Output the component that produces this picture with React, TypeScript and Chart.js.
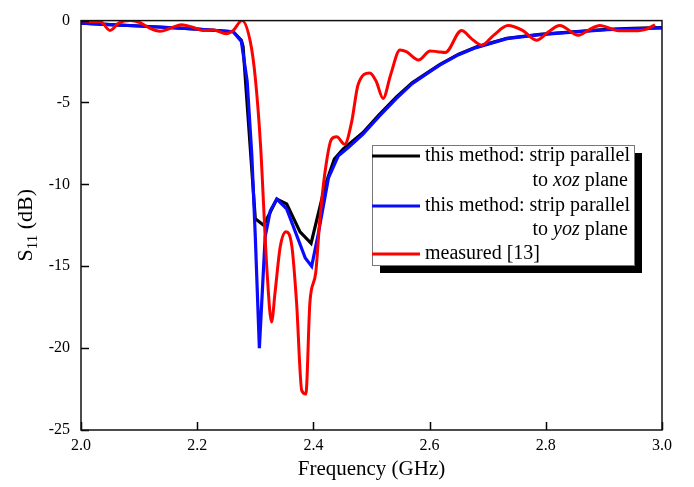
import React, { useEffect, useRef } from "react";
import { Chart, registerables } from "chart.js";

Chart.register(...registerables);

// ---- data ----
const freqXoz = [2.0, 2.05, 2.1, 2.15, 2.2, 2.24, 2.262, 2.276, 2.279, 2.3, 2.3145, 2.337, 2.354, 2.377, 2.396, 2.42, 2.436, 2.451, 2.485, 2.513, 2.543, 2.57, 2.601, 2.618, 2.65, 2.68, 2.733, 2.79, 2.847, 2.905, 2.95, 3.0];
const s11Xoz = [-0.15, -0.25, -0.33, -0.42, -0.52, -0.62, -0.68, -1.2, -1.6, -12.1, -12.5, -10.9, -11.2, -12.9, -13.6, -10.1, -8.45, -7.85, -6.85, -5.75, -4.66, -3.8, -3.07, -2.67, -2.05, -1.62, -1.08, -0.84, -0.68, -0.54, -0.48, -0.43];

const freqYoz = [2.0, 2.05, 2.1, 2.15, 2.2, 2.24, 2.262, 2.276, 2.286, 2.294, 2.3, 2.307, 2.317, 2.326, 2.337, 2.354, 2.37, 2.386, 2.397, 2.4085, 2.426, 2.443, 2.46, 2.485, 2.513, 2.543, 2.57, 2.601, 2.618, 2.65, 2.68, 2.733, 2.79, 2.847, 2.905, 2.95, 3.0];
const s11Yoz = [-0.15, -0.25, -0.33, -0.42, -0.52, -0.62, -0.68, -1.27, -3.7, -8.2, -13.2, -20.0, -13.2, -11.6, -10.9, -11.5, -13.0, -14.5, -15.0, -13.0, -9.6, -8.25, -7.75, -6.95, -5.85, -4.75, -3.85, -3.1, -2.7, -2.08, -1.65, -1.1, -0.86, -0.7, -0.56, -0.5, -0.45];

const freqMeas = [2.0, 2.015, 2.033, 2.05, 2.065, 2.085, 2.1, 2.115, 2.136, 2.155, 2.173, 2.192, 2.21, 2.228, 2.25, 2.262, 2.277, 2.2915, 2.3, 2.309, 2.32, 2.328, 2.334, 2.343, 2.353, 2.363, 2.371, 2.38, 2.387, 2.394, 2.404, 2.411, 2.42, 2.431, 2.44, 2.454, 2.4655, 2.477, 2.497, 2.508, 2.52, 2.533, 2.549, 2.56, 2.581, 2.601, 2.614, 2.627, 2.655, 2.672, 2.69, 2.71, 2.735, 2.76, 2.784, 2.804, 2.824, 2.856, 2.875, 2.893, 2.922, 2.942, 2.962, 2.975, 2.988];
const s11Meas = [0.0, -0.05, -0.05, -0.6, -0.15, 0.0, -0.1, -0.4, -0.65, -0.45, -0.25, -0.4, -0.6, -0.58, -0.8, -0.6, 0.0, -1.3, -3.5, -7.6, -15.2, -18.4, -16.6, -13.8, -12.9, -13.8, -17.2, -22.6, -22.8, -17.2, -15.4, -12.2, -9.25, -7.25, -7.1, -7.55, -6.25, -3.9, -3.2, -3.7, -4.75, -3.3, -1.8, -1.9, -2.4, -1.85, -1.9, -1.95, -0.6, -1.1, -1.5, -0.9, -0.3, -0.6, -1.2, -0.7, -0.3, -0.9, -0.55, -0.3, -0.6, -0.62, -0.6, -0.5, -0.25];

const xTickValues = [2.0, 2.2, 2.4, 2.6, 2.8, 3.0];
const yTickValues = [0, -5, -10, -15, -20, -25];

const legendEntries = ["this method: strip parallel|to |xoz| plane", "this method: strip parallel|to |yoz| plane", "measured [13]"];

const SERIF = '"Liberation Serif", "Times New Roman", serif';

const toPts = (xs: number[], ys: number[]) => xs.map((x, i) => ({ x, y: ys[i] }));

const decorPlugin = {
  id: "decor",
  afterDatasetsDraw(chart: any) {
    const { ctx, chartArea: a, scales } = chart;
    const xs = scales.x;
    const ys = scales.y;
    ctx.save();
    // inward ticks
    ctx.strokeStyle = "#000";
    ctx.lineWidth = 1.5;
    ctx.beginPath();
    xTickValues.forEach((v) => {
      const px = Math.round(xs.getPixelForValue(v)) + 0.5;
      ctx.moveTo(px, a.bottom);
      ctx.lineTo(px, a.bottom - 8);
    });
    yTickValues.forEach((v) => {
      const py = Math.round(ys.getPixelForValue(v)) + 0.5;
      ctx.moveTo(a.left, py);
      ctx.lineTo(a.left + 8, py);
    });
    ctx.stroke();
    // frame
    ctx.lineWidth = 1.5;
    ctx.strokeStyle = "#111";
    ctx.strokeRect(a.left, a.top, a.right - a.left, a.bottom - a.top);

    // legend
    const lx = 372, ly = 145, lw = 262, lh = 120;
    ctx.fillStyle = "#000";
    ctx.fillRect(lx + 8, ly + 8, lw, lh);
    ctx.fillStyle = "#fff";
    ctx.fillRect(lx, ly, lw, lh);
    ctx.strokeStyle = "#777";
    ctx.lineWidth = 1;
    ctx.strokeRect(lx + 0.5, ly + 0.5, lw, lh);
    const colors = ["#000000", "#0a0aff", "#ff0000"];
    const rowY = [156, 181, 206, 230, 254];
    const fs = 20;
    ctx.textBaseline = "middle";
    let row = 0;
    legendEntries.forEach((entry, i) => {
      const parts = entry.split("|");
      const y = rowY[row];
      ctx.strokeStyle = colors[i];
      ctx.lineWidth = 3;
      ctx.beginPath();
      ctx.moveTo(lx, y);
      ctx.lineTo(420, y);
      ctx.stroke();
      ctx.fillStyle = "#000";
      ctx.font = `${fs}px ${SERIF}`;
      ctx.textAlign = "left";
      ctx.fillText(parts[0], 425, y);
      row++;
      if (parts.length > 1) {
        const y2 = rowY[row];
        const right = 628;
        const segs = [
          { t: parts[1], f: `${fs}px ${SERIF}` },
          { t: parts[2], f: `italic ${fs}px ${SERIF}` },
          { t: parts[3], f: `${fs}px ${SERIF}` },
        ];
        let total = 0;
        segs.forEach((s) => {
          ctx.font = s.f;
          total += ctx.measureText(s.t).width;
        });
        let cx = right - total;
        segs.forEach((s) => {
          ctx.font = s.f;
          ctx.fillText(s.t, cx, y2);
          cx += ctx.measureText(s.t).width;
        });
        row++;
      }
    });

    // axis titles
    ctx.fillStyle = "#000";
    ctx.font = `21px ${SERIF}`;
    ctx.textAlign = "center";
    ctx.textBaseline = "alphabetic";
    ctx.fillText("Frequency (GHz)", (a.left + a.right) / 2, 475);

    ctx.translate(32, (a.top + a.bottom) / 2);
    ctx.rotate(-Math.PI / 2);
    const mainF = `22px ${SERIF}`;
    const subF = `15px ${SERIF}`;
    ctx.font = mainF;
    const wS = ctx.measureText("S").width;
    const wRest = ctx.measureText(" (dB)").width;
    ctx.font = subF;
    const wSub = ctx.measureText("11").width;
    const tot = wS + wSub + wRest;
    let cx = -tot / 2;
    ctx.textAlign = "left";
    ctx.font = mainF;
    ctx.fillText("S", cx, 0);
    cx += wS;
    ctx.font = subF;
    ctx.fillText("11", cx, 5);
    cx += wSub;
    ctx.font = mainF;
    ctx.fillText(" (dB)", cx, 0);
    ctx.restore();
  },
};

export default function App() {
  const ref = useRef<HTMLCanvasElement>(null);
  useEffect(() => {
    if (!ref.current) return;
    const chart = new Chart(ref.current, {
      type: "line",
      data: {
        datasets: [
          {
            label: "measured [13]",
            data: toPts(freqMeas, s11Meas),
            borderColor: "#ff0000",
            borderWidth: 3,
            pointRadius: 0,
            cubicInterpolationMode: "monotone",
            order: 1,
          },
          {
            label: "yoz",
            data: toPts(freqYoz, s11Yoz),
            borderColor: "#0a0aff",
            borderWidth: 3.2,
            pointRadius: 0,
            tension: 0,
            order: 2,
          },
          {
            label: "xoz",
            data: toPts(freqXoz, s11Xoz),
            borderColor: "#000000",
            borderWidth: 3.2,
            pointRadius: 0,
            tension: 0,
            order: 3,
          },
        ],
      },
      options: {
        responsive: false,
        animation: false,
        layout: { padding: { left: 0, top: 12, right: 32, bottom: 0 } },
        plugins: { legend: { display: false }, tooltip: { enabled: false } },
        scales: {
          x: {
            type: "linear",
            min: 2,
            max: 3,
            afterBuildTicks: (s: any) => {
              s.ticks = xTickValues.map((v) => ({ value: v }));
            },
            afterFit: (s: any) => {
              s.height = 57;
            },
            grid: { display: false, drawTicks: false },
            border: { display: false },
            ticks: {
              padding: 6,
              color: "#000",
              font: { family: SERIF, size: 16 },
              callback: (v: any) => Number(v).toFixed(1),
            },
          },
          y: {
            type: "linear",
            min: -25,
            max: 0,
            afterBuildTicks: (s: any) => {
              s.ticks = yTickValues.map((v) => ({ value: v }));
            },
            afterFit: (s: any) => {
              s.width = 81;
            },
            grid: { display: false, drawTicks: false },
            border: { display: false },
            ticks: {
              padding: 11,
              color: "#000",
              font: { family: SERIF, size: 16 },
              callback: (v: any) => String(v),
            },
          },
        },
      },
      plugins: [decorPlugin],
    } as any);
    return () => chart.destroy();
  }, []);
  return (
    <div style={{ position: "fixed", left: 0, top: 0, width: 694, height: 487, background: "#fff" }}>
      <canvas ref={ref} width={694} height={487} />
    </div>
  );
}
